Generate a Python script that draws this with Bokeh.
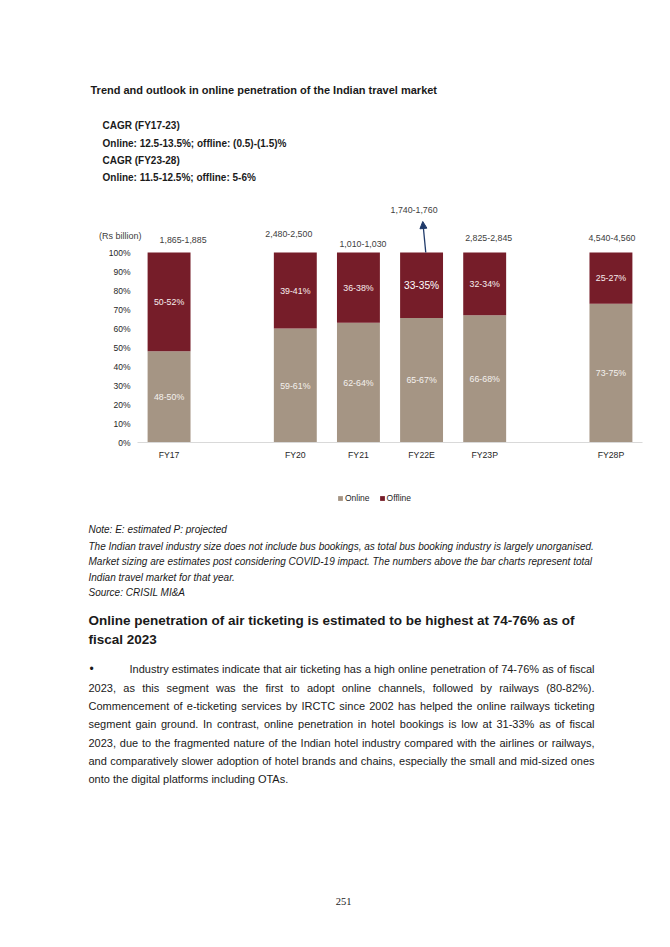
from bokeh.plotting import figure
from bokeh.models import (ColumnDataSource, Range1d, FixedTicker,
                          NumeralTickFormatter, Label, Arrow, NormalHead, Legend, LegendItem)
from bokeh.layouts import column
from bokeh.embed import file_html
from bokeh.resources import INLINE
from bokeh.core.properties import value

# ---------------- data ----------------
years = ["FY17", "FY20", "FY21", "FY22E", "FY23P", "FY28P"]
axis_slots = ["FY17", "", "FY20", "FY21", "FY22E", "FY23P", "", "FY28P"]
online_share = [0.48, 0.60, 0.63, 0.655, 0.67, 0.73]
offline_share = [0.52, 0.40, 0.37, 0.345, 0.33, 0.27]
online_labels = ["48-50%", "59-61%", "62-64%", "65-67%", "66-68%", "73-75%"]
offline_labels = ["50-52%", "39-41%", "36-38%", "33-35%", "32-34%", "25-27%"]
market_size_labels = ["1,865-1,885", "2,480-2,500", "1,010-1,030", "1,740-1,760", "2,825-2,845", "4,540-4,560"]
y_ticks = [0.0, 0.1, 0.2, 0.3, 0.4, 0.5, 0.6, 0.7, 0.8, 0.9, 1.0]
unit_label = "(Rs billion)"
series_names = ["Online", "Offline"]

title_text = "Trend and outlook in online penetration of the Indian travel market"
cagr_lines = ["CAGR (FY17-23)",
              "Online: 12.5-13.5%; offline: (0.5)-(1.5)%",
              "CAGR (FY23-28)",
              "Online: 11.5-12.5%; offline: 5-6%"]
note_lines = ["Note: E: estimated P: projected",
              "The Indian travel industry size does not include bus bookings, as total bus booking industry is largely unorganised.",
              "Market sizing are estimates post considering COVID-19 impact. The numbers above the bar charts represent total",
              "Indian travel market for that year.",
              "Source: CRISIL MI&A"]
heading_lines = ["Online penetration of air ticketing is estimated to be highest at 74-76% as of",
                 "fiscal 2023"]
para_lines = ["Industry estimates indicate that air ticketing has a high online penetration of 74-76% as of fiscal",
              "2023, as this segment was the first to adopt online channels, followed by railways (80-82%).",
              "Commencement of e-ticketing services by IRCTC since 2002 has helped the online railways ticketing",
              "segment gain ground. In contrast, online penetration in hotel bookings is low at 31-33% as of fiscal",
              "2023, due to the fragmented nature of the Indian hotel industry compared with the airlines or railways,",
              "and comparatively slower adoption of hotel brands and chains, especially the small and mid-sized ones",
              "onto the digital platforms including OTAs."]
page_number = "251"

# ---------------- styles ----------------
FONT = "Liberation Sans"
ONLINE_COLOR = "#A59584"
OFFLINE_COLOR = "#761D29"
NAVY = "#1F3A6A"
TEXT = "#1a1a1a"
W = 654

# label placement tweaks (pixels) for the totals above each bar
total_dx = [14, -6.5, 4.5, -7.5, 4, 1]
total_dy = [-13, -19, -9, -43, -15, -15]
seg_font_sizes = ["8.8px"] * 6 + ["8.8px", "8.8px", "8.8px", "10.2px", "8.8px", "8.8px"]
seg_colors = ["#F4F1EE"] * 6 + ["#F6EDEE"] * 3 + ["#FFFFFF"] + ["#F6EDEE"] * 2


def page_fig(top, bottom):
    f = figure(width=W, height=bottom - top, x_range=Range1d(0, W), y_range=Range1d(bottom, top),
               x_axis_location=None, y_axis_location=None, toolbar_location=None,
               output_backend="svg", min_border=0, outline_line_color=None)
    f.grid.visible = False
    return f


# ---------------- header ----------------
head = page_fig(0, 190)
head.text(x=[90], y=[89], text=[title_text], text_font=value(FONT), text_font_style="bold",
          text_font_size="11px", text_baseline="middle", text_color=TEXT)
head.text(x=[102] * 4, y=[125, 143, 160, 177], text=cagr_lines, text_font=value(FONT),
          text_font_style="bold", text_font_size="10px", text_baseline="middle", text_color=TEXT)

# ---------------- chart ----------------
# chart geometry in screen pixels: slots from x=137 to 642, 0% at y=442, 100% at y=252
CH_TOP, CH_BOT = 190, 515
slot_px = (642 - 137) / len(axis_slots)
pct_px = 442 - 252
x0 = -0.5 - 137 / slot_px
x1 = x0 + W / slot_px
y0 = -(CH_BOT - 442) / pct_px
y1 = y0 + (CH_BOT - CH_TOP) / pct_px

p = figure(width=W, height=CH_BOT - CH_TOP, x_range=Range1d(x0, x1), y_range=Range1d(y0, y1),
           toolbar_location=None, output_backend="svg", min_border=0, outline_line_color=None)
p.grid.visible = False

xpos = [axis_slots.index(y) for y in years]
src = ColumnDataSource(dict(x=xpos, online=online_share, offline=offline_share))
rs = p.vbar_stack(["online", "offline"], x="x", width=0.68, source=src,
                  fill_color=[ONLINE_COLOR, OFFLINE_COLOR], line_color=None)

seg_src = ColumnDataSource(dict(
    x=xpos + xpos,
    y=[o / 2 for o in online_share] + [o + f / 2 for o, f in zip(online_share, offline_share)],
    text=online_labels + offline_labels,
    size=seg_font_sizes, color=seg_colors))
p.text(x="x", y="y", text="text", source=seg_src, text_font=value(FONT), text_font_size="size",
       text_color="color", text_align="center", text_baseline="middle")

tot_src = ColumnDataSource(dict(x=xpos, y=[o + f for o, f in zip(online_share, offline_share)],
                                text=market_size_labels, dx=total_dx, dy=total_dy))
p.text(x="x", y="y", text="text", source=tot_src, x_offset="dx", y_offset="dy",
       text_font=value(FONT), text_font_size="8.8px", text_color="#404040",
       text_align="center", text_baseline="middle")

i22 = axis_slots.index("FY22E")
p.add_layout(Arrow(end=NormalHead(size=7, fill_color=NAVY, line_color=NAVY, line_width=1),
                   x_start=i22 + 4.2 / slot_px, y_start=1.0,
                   x_end=i22 + 1.2 / slot_px, y_end=1.0 + 31 / pct_px,
                   line_color=NAVY, line_width=1.3))

p.add_layout(Label(x=-0.5 + 4 / slot_px, y=1.0 + 17 / pct_px, text=unit_label, text_align="right",
                   text_baseline="middle", text_font=FONT, text_font_size="9px", text_color="#404040"))

p.yaxis.fixed_location = -0.5
p.yaxis.ticker = FixedTicker(ticks=y_ticks)
p.yaxis.formatter = NumeralTickFormatter(format="0%")
p.yaxis.axis_line_color = None
p.yaxis.major_tick_line_color = None
p.yaxis.minor_tick_line_color = None
p.yaxis.major_tick_out = 0
p.yaxis.minor_tick_out = 0
p.yaxis.major_label_standoff = 7
p.yaxis.major_label_text_font = FONT
p.yaxis.major_label_text_font_size = "8.5px"
p.yaxis.major_label_text_color = "#262626"

p.xaxis.fixed_location = 0
p.xaxis.bounds = (-0.5, len(axis_slots) - 0.5)
p.xaxis.ticker = FixedTicker(ticks=xpos)
p.xaxis.major_label_overrides = {i: axis_slots[i] for i in xpos}
p.xaxis.axis_line_color = "#D9D9D9"
p.xaxis.major_tick_line_color = None
p.xaxis.minor_tick_line_color = None
p.xaxis.major_tick_out = 0
p.xaxis.minor_tick_out = 0
p.xaxis.major_label_standoff = 7
p.xaxis.major_label_text_font = FONT
p.xaxis.major_label_text_font_size = "8.7px"
p.xaxis.major_label_text_color = "#262626"

legend = Legend(items=[LegendItem(label=series_names[0], renderers=[rs[0]]),
                       LegendItem(label=series_names[1], renderers=[rs[1]])],
                orientation="horizontal", location=(337, CH_BOT - 503), glyph_width=6, glyph_height=6,
                label_standoff=2, spacing=9, padding=0, margin=0, border_line_color=None,
                background_fill_alpha=0, label_text_font=FONT, label_text_font_size="8.5px",
                label_text_color="#262626")
p.add_layout(legend)

# ---------------- footer ----------------
foot = page_fig(515, 931)
foot.text(x=[88] * 5, y=[528.5, 545.5, 561, 576.5, 591.5], text=note_lines, text_font=value(FONT),
          text_font_style="italic", text_font_size="10px", text_baseline="middle", text_color=TEXT)
foot.text(x=[88] * 2, y=[620, 639], text=heading_lines, text_font=value(FONT), text_font_style="bold",
          text_font_size="13.5px", text_baseline="middle", text_color=TEXT)

# justified paragraph (Arial/Liberation Sans metrics)
AW = {' ': 278, ',': 278, '.': 278, '-': 333, '%': 889, '(': 333, ')': 333, ':': 278, ';': 278, '&': 667}
for c in '0123456789':
    AW[c] = 556
AW.update(dict(zip('abcdefghijklmnopqrstuvwxyz',
                   [556, 556, 500, 556, 556, 278, 556, 556, 222, 222, 500, 222, 833, 556, 556, 556, 556, 333,
                    500, 278, 556, 500, 722, 500, 500, 500])))
AW.update(dict(zip('ABCDEFGHIJKLMNOPQRSTUVWXYZ',
                   [667, 667, 722, 722, 667, 611, 778, 722, 278, 500, 667, 556, 833, 722, 778, 667, 778, 722,
                    667, 611, 722, 667, 944, 667, 667, 611])))
PSIZE = 11.0


def tw(s):
    return sum(AW.get(c, 556) for c in s) * PSIZE / 1000.0


para_y = [668.5, 687, 705.3, 723.7, 742, 760, 778]
R = 594
wx, wy, wt = [], [], []
for li, line in enumerate(para_lines):
    left = 129 if li == 0 else 88
    words = line.split(" ")
    if li == len(para_lines) - 1:
        wx.append(left); wy.append(para_y[li]); wt.append(line)
        continue
    total = sum(tw(w) for w in words)
    gap = (R - left - total) / (len(words) - 1)
    x = left
    for w in words:
        wx.append(x); wy.append(para_y[li]); wt.append(w)
        x += tw(w) + gap
foot.text(x=wx, y=wy, text=wt, text_font=value(FONT), text_font_size="11px",
          text_baseline="middle", text_color=TEXT)
foot.text(x=[89], y=[668.5], text=["\u2022"], text_font=value(FONT), text_font_size="12px",
          text_baseline="middle", text_color=TEXT)
foot.text(x=[343], y=[901], text=[page_number], text_font=value("Liberation Serif"), text_font_size="10.5px",
          text_align="center", text_baseline="middle", text_color=TEXT)

layout = column(head, p, foot, spacing=0)
open("out.html", "w").write(file_html(layout, INLINE))
